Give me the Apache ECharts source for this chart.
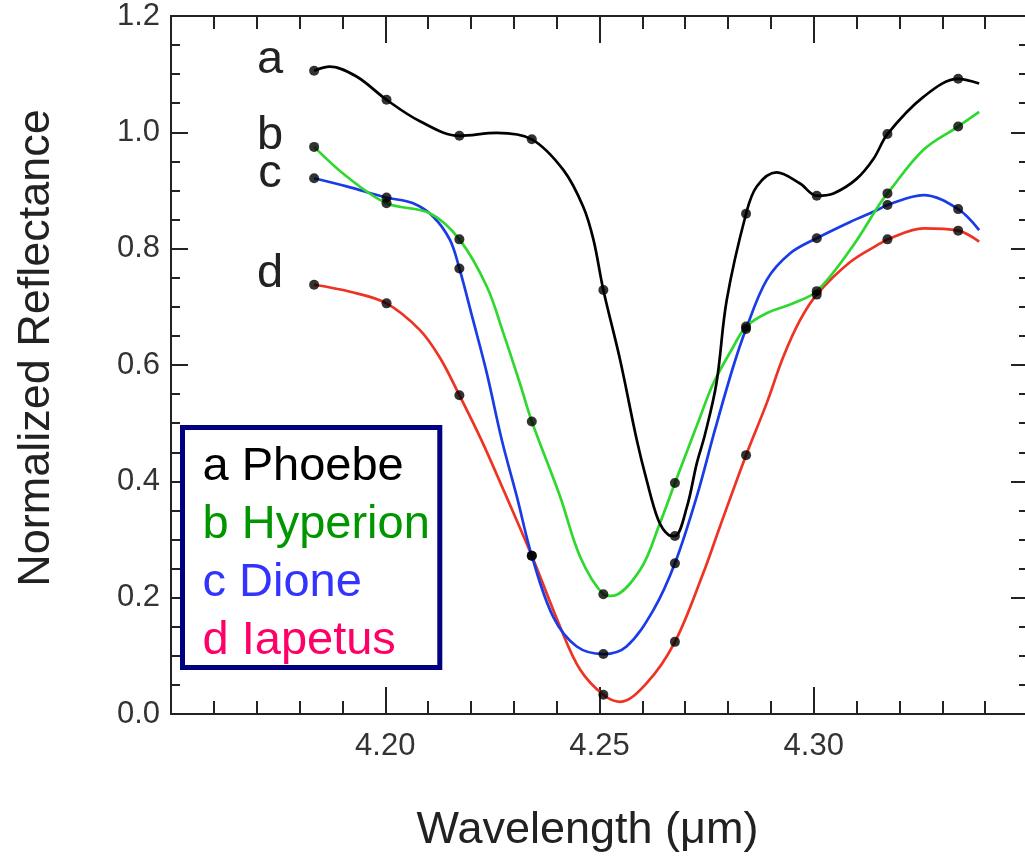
<!DOCTYPE html>
<html>
<head>
<meta charset="utf-8">
<script src="https://cdn.jsdelivr.net/npm/echarts@6/dist/echarts.min.js"></script>
<style>
html,body{margin:0;padding:0;background:#fff;}
#chart{width:1025px;height:858px;}
</style>
</head>
<body>
<div id="chart"></div>
<script>
// ---- data ----
const wavelengths = [4.1834, 4.2003, 4.2173, 4.2342, 4.2509, 4.2676, 4.2842, 4.3007, 4.3172, 4.3337];
const phoebe   = [1.106, 1.056, 0.994, 0.988, 0.729, 0.306, 0.860, 0.891, 0.997, 1.092];
const hyperion = [0.975, 0.878, 0.816, 0.503, 0.206, 0.397, 0.666, 0.727, 0.895, 1.010];
const dione    = [0.921, 0.888, 0.766, 0.272, 0.103, 0.259, 0.662, 0.818, 0.875, 0.868];
const iapetus  = [0.738, 0.706, 0.548, 0.272, 0.033, 0.124, 0.445, 0.721, 0.816, 0.831];

// fitted curve positions read between the measured points
const phoebeTrace = [[4.1871,1.113],[4.1933,1.096],[4.2081,1.019],[4.2260,0.999],[4.2416,0.935],[4.2462,0.872],[4.2486,0.815],[4.2548,0.609],[4.2587,0.471],[4.2610,0.402],[4.2637,0.334],[4.2661,0.308],[4.2704,0.356],[4.2727,0.431],[4.2746,0.480],[4.2773,0.569],[4.2797,0.712],[4.2867,0.907],[4.2913,0.931],[4.2968,0.912],[4.3046,0.895],[4.3100,0.920],[4.3140,0.955],[4.3256,1.061],[4.3386,1.084]];
const hyperionTrace = [[4.1910,0.924],[4.2104,0.861],[4.2237,0.735],[4.2276,0.654],[4.2314,0.569],[4.2408,0.374],[4.2455,0.270],[4.2528,0.203],[4.2595,0.248],[4.2641,0.328],[4.2735,0.511],[4.2766,0.569],[4.2812,0.631],[4.2890,0.689],[4.2952,0.706],[4.3085,0.798],[4.3155,0.878],[4.3256,0.970],[4.3386,1.035]];
const dioneTrace = [[4.1910,0.907],[4.2065,0.878],[4.2112,0.855],[4.2151,0.815],[4.2205,0.677],[4.2237,0.586],[4.2272,0.471],[4.2307,0.374],[4.2392,0.167],[4.2447,0.116],[4.2563,0.116],[4.2626,0.179],[4.2727,0.374],[4.2770,0.490],[4.2812,0.597],[4.2890,0.746],[4.2945,0.792],[4.3085,0.846],[4.3147,0.866],[4.3256,0.892],[4.3386,0.832]];
const iapetusTrace = [[4.1918,0.726],[4.2081,0.660],[4.2128,0.612],[4.2225,0.470],[4.2276,0.385],[4.2408,0.150],[4.2455,0.076],[4.2548,0.021],[4.2610,0.053],[4.2742,0.242],[4.2781,0.322],[4.2890,0.534],[4.2929,0.614],[4.2968,0.677],[4.3085,0.777],[4.3155,0.809],[4.3256,0.835],[4.3386,0.812]];

const seriesNames = ['a Phoebe', 'b Hyperion', 'c Dione', 'd Iapetus'];
const curveLetters = ['a', 'b', 'c', 'd'];
const xTicks = { min: 4.15, max: 4.35, interval: 0.05 };
const yTicks = { min: 0, max: 1.2, interval: 0.2 };

// ---- styles ----
const lineColors = ['#000000', '#2fd82f', '#1a3ce6', '#ee3322'];
const legendColors = ['#000000', '#009600', '#3333ff', '#ff0066'];
const FONT = '"Liberation Sans", Arial, Helvetica, sans-serif';

function merge(xs, ys, trace) {
  const pts = xs.map((x, i) => [x, ys[i]]).concat(trace);
  pts.sort((a, b) => a[0] - b[0]);
  return pts;
}
const values = [phoebe, hyperion, dione, iapetus];
const traces = [phoebeTrace, hyperionTrace, dioneTrace, iapetusTrace];

const axisLine = { show: true, onZero: false, lineStyle: { color: '#222', width: 2 } };
function xAxisDef(pos, labels) {
  return {
    type: 'value', position: pos, min: xTicks.min, max: xTicks.max, interval: xTicks.interval,
    axisLine: axisLine,
    axisTick: { show: true, inside: true, length: 27, lineStyle: { color: '#222', width: 2 } },
    minorTick: { show: true, splitNumber: 5, length: 13, lineStyle: { color: '#222', width: 2 } },
    splitLine: { show: false }, minorSplitLine: { show: false },
    axisLabel: {
      show: labels, showMinLabel: false, showMaxLabel: false, margin: 17,
      color: '#333', fontSize: 31, fontFamily: FONT,
      formatter: v => v.toFixed(2)
    }
  };
}
function yAxisDef(pos, labels) {
  return {
    type: 'value', position: pos, min: yTicks.min, max: yTicks.max, interval: yTicks.interval,
    axisLine: axisLine,
    axisTick: { show: true, inside: true, length: 17, lineStyle: { color: '#222', width: 2 } },
    minorTick: { show: true, splitNumber: 4, length: 9, lineStyle: { color: '#222', width: 2 } },
    splitLine: { show: false }, minorSplitLine: { show: false },
    axisLabel: {
      show: labels, margin: 11, color: '#333', fontSize: 31, fontFamily: FONT,
      formatter: v => v.toFixed(1)
    }
  };
}

const xMain = xAxisDef('bottom', true);
xMain.name = 'Wavelength (\u03bcm)';
xMain.nameLocation = 'middle';
xMain.nameGap = 94;
xMain.nameTextStyle = { fontSize: 45, color: '#222', fontFamily: FONT, padding: [0, 24, 0, 0] };
const yMain = yAxisDef('left', true);
yMain.name = 'Normalized Reflectance';
yMain.nameLocation = 'middle';
yMain.nameGap = 112;
yMain.nameTextStyle = { fontSize: 45, color: '#222', fontFamily: FONT, padding: [0, 0, 0, 34] };

const series = [];
seriesNames.forEach((name, k) => {
  series.push({
    type: 'line', name: name, xAxisIndex: 0, yAxisIndex: 0,
    data: merge(wavelengths, values[k], traces[k]),
    smooth: 0.35, showSymbol: false, symbol: 'none',
    lineStyle: { color: lineColors[k], width: 2.7 },
    itemStyle: { color: lineColors[k] },
    z: 3 + (3 - k), silent: true, animation: false
  });
});
seriesNames.forEach((name, k) => {
  series.push({
    type: 'scatter', name: name + ' points', xAxisIndex: 0, yAxisIndex: 0,
    data: wavelengths.map((x, i) => [x, values[k][i]]),
    symbol: 'circle', symbolSize: 10,
    itemStyle: { color: '#000' }, z: 10, silent: true, animation: false
  });
});

// letters a-d placed at the left of each curve start (pixel layout)
const letterPos = [[270, 60], [270, 136], [270, 174], [270, 274]];

const option = {
  backgroundColor: '#fff',
  animation: false,
  grid: { left: 171, width: 857, top: 16, bottom: 144, containLabel: false, outerBoundsMode: 'none' },
  xAxis: [xMain, xAxisDef('top', false)],
  yAxis: [yMain, yAxisDef('right', false)],
  legend: {
    show: true, orient: 'vertical', left: 182.5, top: 427.5,
    padding: [16, 10, 3, 15], itemGap: 11,
    itemWidth: 0, itemHeight: 0, icon: 'rect',
    itemStyle: { opacity: 0 }, lineStyle: { opacity: 0 },
    borderColor: '#000080', borderWidth: 5, backgroundColor: '#fff',
    selectedMode: false,
    textStyle: { fontSize: 47, fontFamily: FONT },
    data: seriesNames.map((n, k) => ({ name: n, textStyle: { color: legendColors[k], fontSize: 47, fontFamily: FONT } }))
  },
  graphic: curveLetters.map((t, k) => ({
    type: 'text', x: letterPos[k][0], y: letterPos[k][1], z: 20,
    style: { text: t, fill: '#222', font: '47px ' + FONT, align: 'center', verticalAlign: 'middle' }
  })),
  series: series
};

const chart = echarts.init(document.getElementById('chart'), null, { renderer: 'canvas' });
chart.setOption(option);
</script>
</body>
</html>
